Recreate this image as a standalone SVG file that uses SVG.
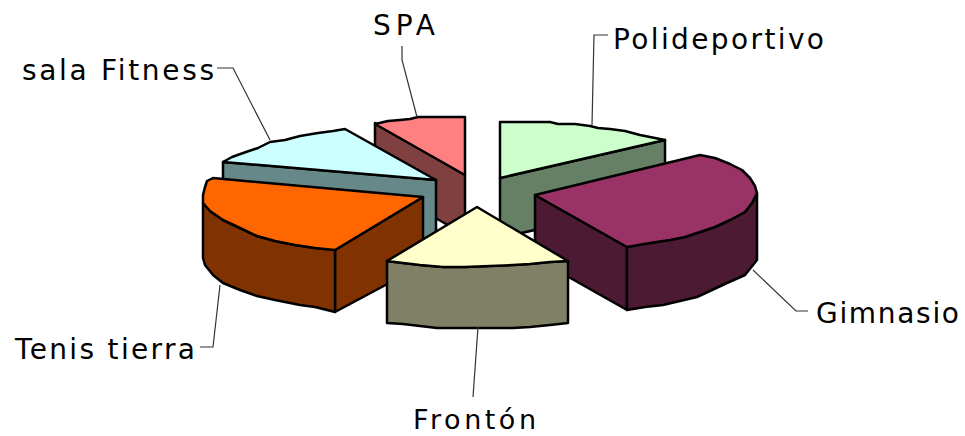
<svg xmlns="http://www.w3.org/2000/svg" width="965" height="436" viewBox="0 0 965 436">
<style>
.s{stroke:#000;stroke-width:2.5;stroke-linejoin:round}
.lead{fill:none;stroke:#333;stroke-width:1.2}
text{font-family:"DejaVu Sans","Verdana",sans-serif;font-size:28px;fill:#000}
</style>
<rect width="965" height="436" fill="#fff"/>
<g id="slice-spa">
<path class="s" fill="#804040" d="M375,123 L465,175 L465,235 L375,183 Z"/>
<path class="s" fill="#FF8080" d="M375,124 L388,121 L400,120 L410,119 L418,117 L465,117 L465,175 Z"/>
</g>
<g id="slice-polideportivo">
<path class="s" fill="#668066" d="M500,178 L665,140 L665,200 L500,238 Z"/>
<path class="s" fill="#CCFFCC" d="M500,122 L550,122 L558,124 L575,124 L590,126 L598,128 L610,129 L625,131 L640,135 L655,138 L665,140 L500,178 Z"/>
</g>
<g id="slice-fitness">
<path class="s" fill="#678888" d="M223,162 L436,180 L436,240 L223,222 Z"/>
<path class="s" fill="#CCFFFF" d="M223,162 L232,157 L246,152 L258,148 L270,142 L285,140 L300,136 L318,133 L333,131 L345,129 L436,180 Z"/>
</g>
<g id="slice-gimnasio">
<path class="s" fill="#4D1A33" d="M535,195 L627,247 L627,310 L535,258 Z"/>
<path class="s" fill="#4D1A33" d="M627,247 L650,243 L670,240 L685,237 L700,232 L715,227 L730,220 L745,212 L752,203 L757,193 L757,260 L745,275 L727,283 L712,290 L697,297 L680,301 L663,305 L645,307 L627,310 Z"/>
<path class="s" fill="#993366" d="M535,195 L700,155 L715,158 L730,164 L742,170 L750,178 L755,186 L757,193 L752,203 L745,212 L730,220 L715,227 L700,232 L685,237 L670,240 L650,243 L627,247 Z"/>
</g>
<g id="slice-tenis">
<path class="s" fill="#803300" d="M335,250 L423,197 L423,265 L335,312 Z"/>
<path class="s" fill="#803300" d="M203,203 L210,211 L223,220 L240,228 L257,236 L275,241 L295,245 L315,248 L335,250 L335,312 L315,307 L300,305 L290,303 L275,300 L257,296 L240,290 L223,283 L213,275 L205,265 L203,258 Z"/>
<path class="s" fill="#FF6600" d="M423,197 L213,178 L207,181 L205,187 L203,195 L203,203 L210,211 L223,220 L240,228 L257,236 L275,241 L295,245 L315,248 L335,250 Z"/>
</g>
<g id="slice-fronton">
<path class="s" fill="#808066" d="M387,261 L403,263 L420,265 L443,267 L465,267 L490,266 L513,265 L530,264 L550,262 L568,261 L568,323 L550,325 L530,327 L513,328 L490,328 L465,328 L437,328 L420,326 L403,324 L387,323 Z"/>
<path class="s" fill="#FFFFCC" d="M477,207 L568,261 L550,262 L530,264 L513,265 L490,266 L465,267 L443,267 L420,265 L403,263 L387,261 Z"/>
</g>
<g id="connectors">
<polyline class="lead" points="402,46 402,60 417,117"/>
<polyline class="lead" points="217,68 233,68 270,140"/>
<polyline class="lead" points="608,35 594,35 592,125"/>
<polyline class="lead" points="200,347 213,347 220,285"/>
<polyline class="lead" points="478,327 473,397"/>
<polyline class="lead" points="753,270 796,311 808,311"/>
</g>
<g id="labels">
<text x="373" y="35" textLength="62" lengthAdjust="spacing">SPA</text>
<text x="22" y="80" textLength="192" lengthAdjust="spacing">sala Fitness</text>
<text x="613" y="49" textLength="211" lengthAdjust="spacing">Polideportivo</text>
<text x="15" y="359" textLength="180" lengthAdjust="spacing">Tenis tierra</text>
<text x="816" y="323" textLength="143" lengthAdjust="spacing">Gimnasio</text>
<text x="413" y="429" textLength="123" lengthAdjust="spacing" style="font-size:27px">Frontón</text>
</g>
</svg>
